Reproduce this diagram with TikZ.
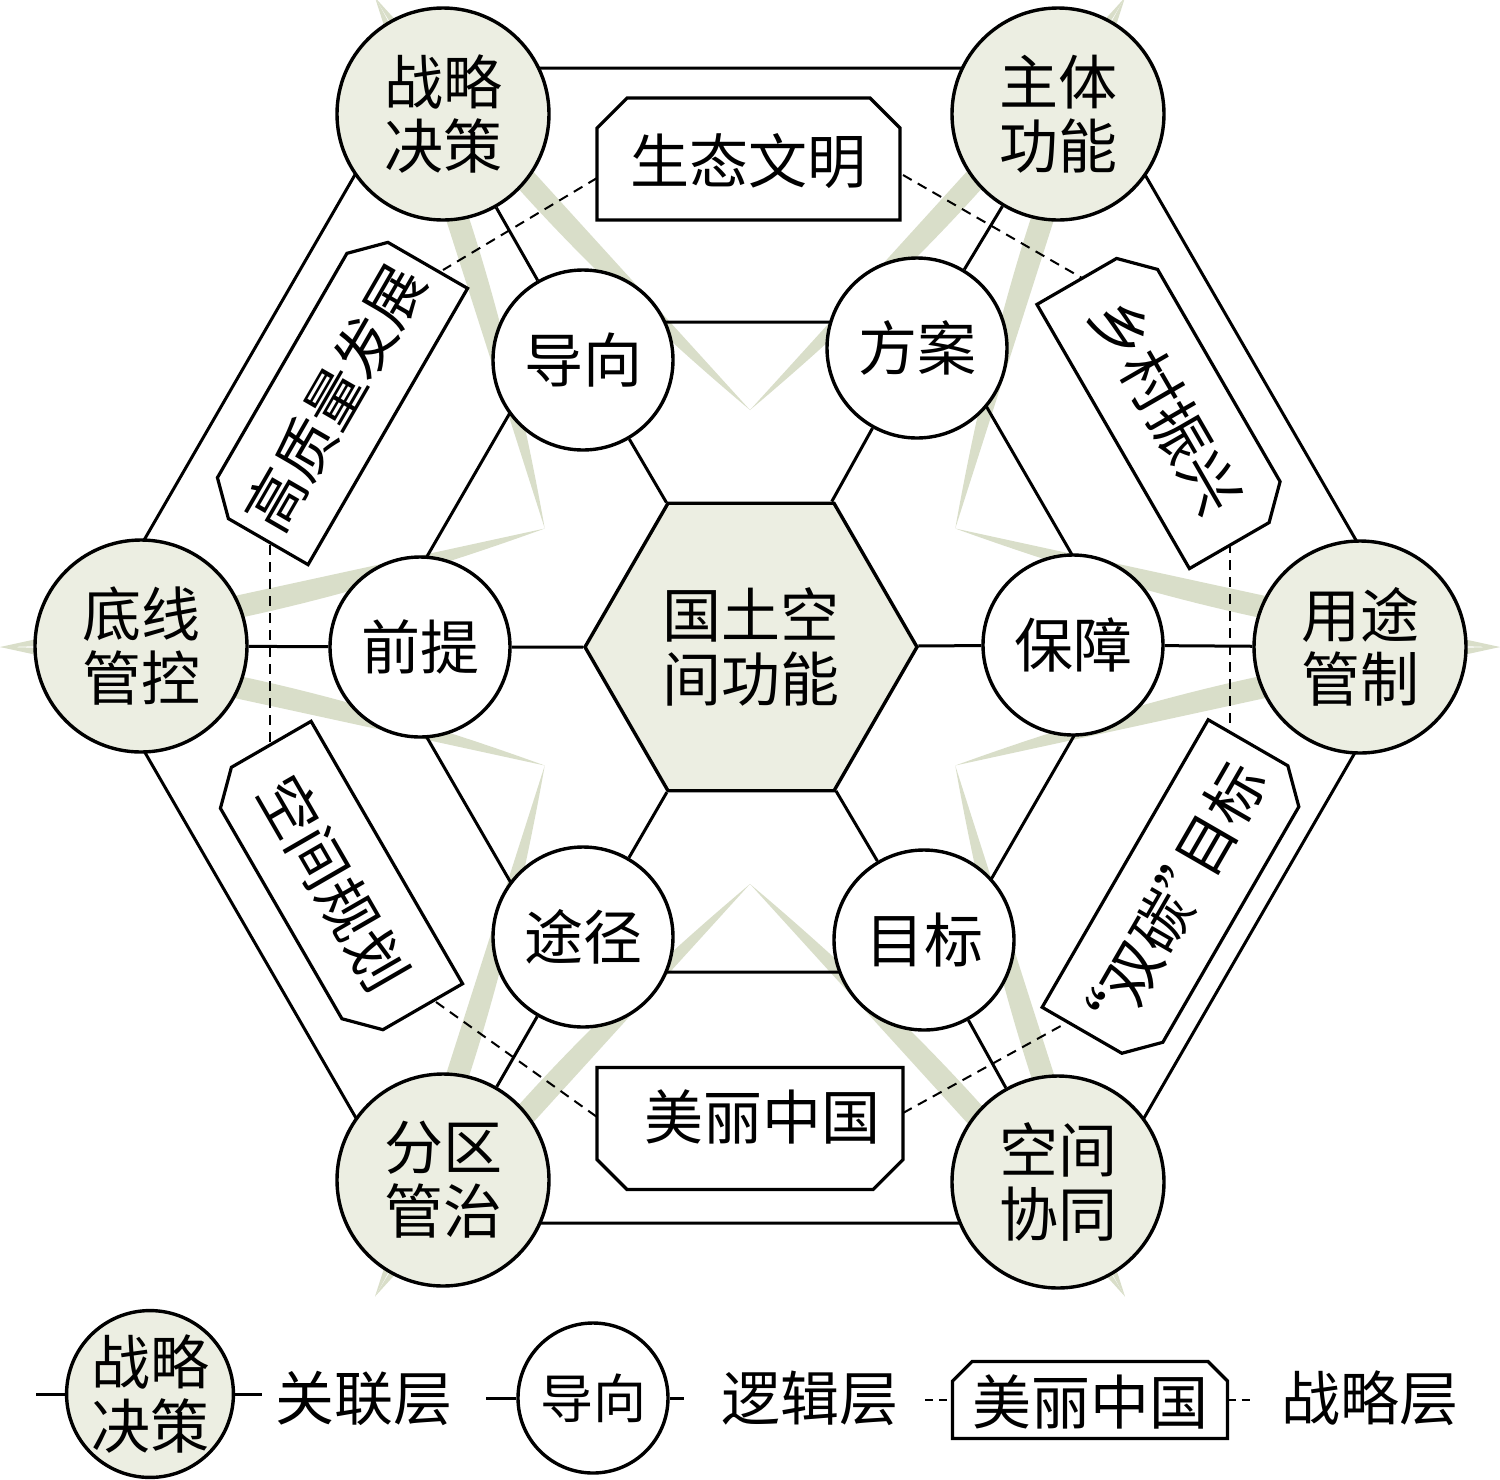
\documentclass[tikz,border=0pt]{standalone}
\usepackage{fontspec}
\newfontfamily\cjk{Noto Sans CJK SC}
\usetikzlibrary{calc,shapes.geometric}
\definecolor{circfill}{RGB}{236,238,226}
\definecolor{bandcol}{RGB}{217,222,201}
\newcommand\cutboxtop[4]{%
  \draw[boxline, shift={(#1,#2)}, rotate=#3] ({-#4},61) -- ({#4},61) -- ({#4},-31) -- ({#4-30},-61) -- ({-#4+30},-61) -- ({-#4},-31) -- cycle;}
\newcommand\cutboxbot[4]{%
  \draw[boxline, shift={(#1,#2)}, rotate=#3] ({-#4},-61) -- ({#4},-61) -- ({#4},31) -- ({#4-30},61) -- ({-#4+30},61) -- ({-#4},31) -- cycle;}
\begin{document}
\begin{tikzpicture}[x=0.5pt,y=-0.5pt,
  every node/.style={font=\cjk\fontsize{29.5}{32}\selectfont, text=black},
  outerc/.style={circle, draw, line width=1.7pt, fill=circfill, minimum size=106pt, inner sep=0pt, align=center},
  innerc/.style={circle, draw, line width=1.7pt, fill=white, minimum size=90pt, inner sep=0pt, align=center},
  link/.style={line width=1.5pt},
  dlink/.style={line width=1pt, dash pattern=on 5pt off 3.5pt},
  band/.style={fill=bandcol},
  boxline/.style={line width=1.6pt, fill=white, draw=black, line join=miter}
]
\useasboundingbox (0,0) rectangle (1500,1479);
\coordinate (C) at (750,647);
% pale star
\foreach \k in {0,...,5}{
  \foreach \sg/\ang in {-1/90,1/-90}{
    \path ($(C)+({60*\k}:750)$) coordinate (T) ($(C)+({60*\k+30*\sg}:237)$) coordinate (I);
    \fill[band] (T) .. controls ($(T)!0.25!(I)!15pt!\ang:(I)$) and ($(T)!0.6!(I)!15pt!\ang:(I)$) .. (I) -- cycle;
  }
}
% outer (association) hexagon
\draw[link, line join=miter] (1416.8,645.5) -- (1083.4,68) -- (416.6,68) -- (83.2,645.5) -- (416.6,1223) -- (1083.4,1223) -- cycle;
% inner (logic) hexagon
\draw[link, line join=miter] (1125.3,647) -- (937.6,322) -- (562.4,322) -- (374.7,647) -- (562.4,972) -- (937.6,972) -- cycle;
% strategy layer dashed links
\coordinate (d1a) at (597,178);  \coordinate (d1b) at (443,270);
\coordinate (d2a) at (903,175);  \coordinate (d2b) at (1082,278);
\coordinate (d3a) at (270,545);  \coordinate (d3b) at (270,743);
\coordinate (d4a) at (1230,543); \coordinate (d4b) at (1230,729);
\coordinate (d5a) at (436,1002); \coordinate (d5b) at (597,1117);
\coordinate (d6a) at (903,1113); \coordinate (d6b) at (1068,1022);
\foreach \i in {1,...,6}{\draw[dlink] (d\i a) -- (d\i b);}
% strategy boxes
\cutboxtop{748.5}{159}{0}{151.5}
\cutboxbot{750}{1128.5}{0}{153}
\cutboxtop{335}{396}{60}{159.5}
\cutboxtop{1166}{406}{-60}{152.5}
\cutboxbot{334}{883}{-60}{151.5}
\cutboxbot{1178}{894}{60}{166}
\node (stwm) at (748.5,161) {生态文明};
\node (mlzg) at (762,1117) {美丽中国};
\node[rotate=60] (gzlfz) at (335,398) {高质量发展};
\node[rotate=-60] (xczx) at (1166,406) {乡村振兴};
\node[rotate=-60] (kjgh) at (334,883) {空间规划};
\node[rotate=60] (stmb) at (1176,896) {\makebox[0.5em][r]{“}双碳\makebox[0.5em][l]{”}目标};
% core
\node[regular polygon, regular polygon sides=6, minimum size=166pt, draw, fill=circfill, line width=1.7pt, inner sep=0pt, align=center] (hex) at (751,647) {国土空\\间功能};
% logic layer
\node[innerc] (dx) at (583,360) {导向};
\node[innerc] (fa) at (917,348) {方案};
\node[innerc] (qt) at (420,647) {前提};
\node[innerc] (bz) at (1073,645) {保障};
\node[innerc] (tj) at (583,937) {途径};
\node[innerc] (mb) at (924,940) {目标};
% association layer
\node[outerc] (zlcl) at (443,114) {战略\\决策};
\node[outerc] (ztgn) at (1058,114) {主体\\功能};
\node[outerc] (dxgk) at (141,646) {底线\\管控};
\node[outerc] (ytgz) at (1360,647) {用途\\管制};
\node[outerc] (fqgz) at (443,1180) {分区\\管治};
\node[outerc] (kjxt) at (1058,1182) {空间\\协同};
% spokes
\foreach \a/\b in {hex/dx,hex/fa,hex/qt,hex/bz,hex/tj,hex/mb,dx/zlcl,fa/ztgn,qt/dxgk,bz/ytgz,tj/fqgz,mb/kjxt}{
  \draw[link] (\a) -- (\b);
}
% legend
\coordinate (la) at (36,1394);  \coordinate (lb) at (262,1394);
\coordinate (lc) at (486,1398); \coordinate (ld) at (684,1398);
\coordinate (le) at (925,1400); \coordinate (lf) at (1254,1400);
\node[outerc, minimum size=82pt] (lg1) at (150,1394) {战略\\决策};
\draw[link] (la) -- (lg1); \draw[link] (lg1) -- (lb);
\node (lt1) at (364,1398) {关联层};
\node[innerc, minimum size=75pt, font=\cjk\fontsize{26.5}{30}\selectfont] (lg2) at (593,1398) {导向};
\draw[link] (lc) -- (lg2); \draw[link] (lg2) -- (ld);
\node (lt2) at (810,1398) {逻辑层};
\draw[boxline] (952.5,1438.5) -- (1227.5,1438.5) -- (1227.5,1381) -- (1208,1361.5) -- (972,1361.5) -- (952.5,1381) -- cycle;
\node (lg3) at (1090,1402) {美丽中国};
\draw[line width=1pt, dash pattern=on 4pt off 3pt] (le) -- (952.5,1400);
\draw[line width=1pt, dash pattern=on 4pt off 3pt] (1227.5,1400) -- (lf);
\node (lt3) at (1370,1398) {战略层};
\end{tikzpicture}
\end{document}
